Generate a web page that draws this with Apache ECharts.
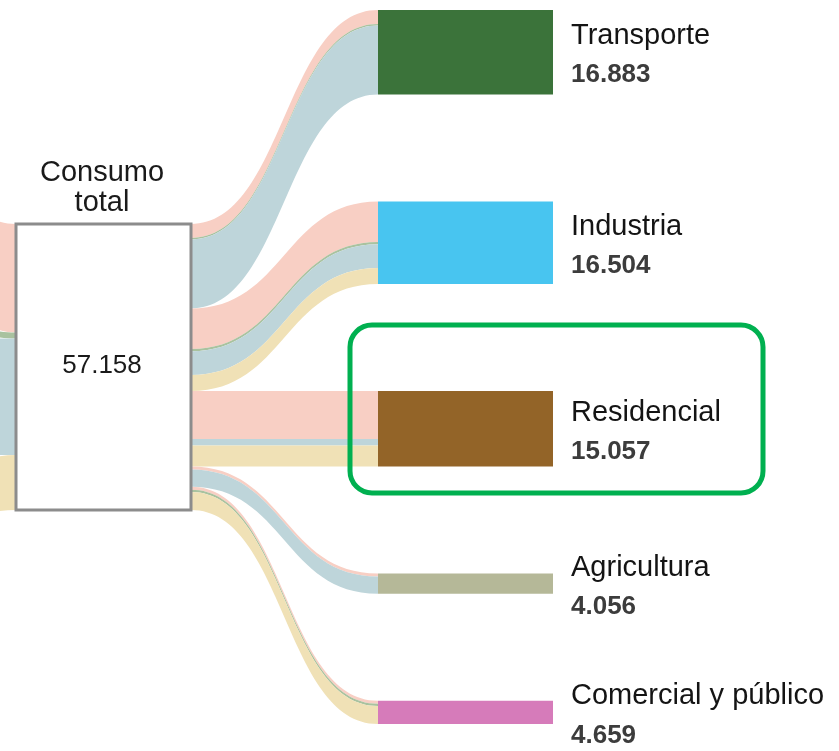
<!DOCTYPE html>
<html>
<head>
<meta charset="utf-8">
<script src="https://cdn.jsdelivr.net/npm/echarts@6/dist/echarts.min.js"></script>
<style>
  html, body { margin: 0; padding: 0; background: #ffffff; }
  #chart { width: 839px; height: 751px; }
</style>
</head>
<body>
<div id="chart"></div>
<script>
// ---- data ----
const totalName = 'Consumo total';
const totalValue = 57.158;
const sectors = ['Transporte', 'Industria', 'Residencial', 'Agricultura', 'Comercial y público'];
const sectorTotals = [16.883, 16.504, 15.057, 4.056, 4.659];
const sectorColors = ['#3b733a', '#48c5f0', '#936428', '#b5b898', '#d67bba'];
// origin of each sector's consumption (estimated from the band widths)
const sources = ['Fuente 1', 'Fuente 2', 'Fuente 3', 'Fuente 4'];
const sourceColors = ['#f8cfc4', '#a9c29f', '#bed5da', '#f0e1b6'];
const source1Share = [2.8, 8.1, 9.6, 0.6, 0.6];
const source2Share = [0.3, 0.45, 0, 0, 0.45];
const source3Share = [13.783, 4.74, 1.3, 3.456, 0];
const source4Share = [0, 3.214, 4.157, 0, 3.609];
const shares = [source1Share, source2Share, source3Share, source4Share];

// ---- build sankey ----
const fontFamily = '"Liberation Sans", Arial, sans-serif';
const nodes = [];
sources.forEach((s, i) => nodes.push({
  name: s, itemStyle: { color: sourceColors[i] }, label: { show: false }
}));
nodes.push({
  name: totalName,
  localY: 0.2997,
  itemStyle: { color: '#ffffff', borderColor: '#8c8c8c', borderWidth: 3 },
  label: {
    show: true,
    position: [87.5, -64],
    align: 'center',
    verticalAlign: 'top',
    formatter: '{n|Consumo}\n{n|total}\n{g| }\n{v|' + totalValue.toFixed(3) + '}',
    rich: {
      n: { fontSize: 29, lineHeight: 30, color: '#1a1a1a', fontFamily: fontFamily, align: 'center' },
      g: { fontSize: 10, lineHeight: 132 },
      v: { fontSize: 26, lineHeight: 30, color: '#1a1a1a', fontFamily: fontFamily, align: 'center' }
    }
  }
});
sectors.forEach((s, i) => nodes.push({
  name: s,
  itemStyle: { color: sectorColors[i] },
  label: {
    show: true,
    position: 'right',
    distance: 18,
    offset: [0, 3],
    formatter: '{n|' + s + '}\n{v|' + sectorTotals[i].toFixed(3) + '}',
    rich: {
      n: { fontSize: 29, lineHeight: 40, color: '#141414', fontFamily: fontFamily },
      v: { fontSize: 26, lineHeight: 38, color: '#3c3c3c', fontWeight: 'bold', fontFamily: fontFamily }
    }
  }
}));

const links = [];
sources.forEach((s, k) => {
  const v = shares[k].reduce((a, b) => a + b, 0);
  links.push({ source: s, target: totalName, value: +v.toFixed(3), lineStyle: { color: sourceColors[k] } });
});
sectors.forEach((sec, i) => {
  shares.forEach((arr, k) => {
    if (arr[i] > 0) {
      links.push({ source: totalName, target: sec, value: arr[i], lineStyle: { color: sourceColors[k] } });
    }
  });
});

const chart = echarts.init(document.getElementById('chart'), null, { renderer: 'canvas' });
chart.setOption({
  backgroundColor: '#ffffff',
  animation: false,
  tooltip: { show: false },
  series: [{
    type: 'sankey',
    left: -346,
    top: 10,
    width: 899,
    height: 714,
    nodeWidth: 175,
    nodeGap: 107,
    layoutIterations: 0,
    draggable: false,
    emphasis: { disabled: true },
    itemStyle: { borderWidth: 0 },
    lineStyle: { curveness: 0.5, opacity: 1 },
    data: nodes,
    links: links
  }],
  graphic: [{
    type: 'rect',
    z: 100,
    shape: { x: 350, y: 325, width: 413, height: 168, r: 22 },
    style: { fill: 'none', stroke: '#00b050', lineWidth: 5 }
  }]
});
</script>
</body>
</html>
